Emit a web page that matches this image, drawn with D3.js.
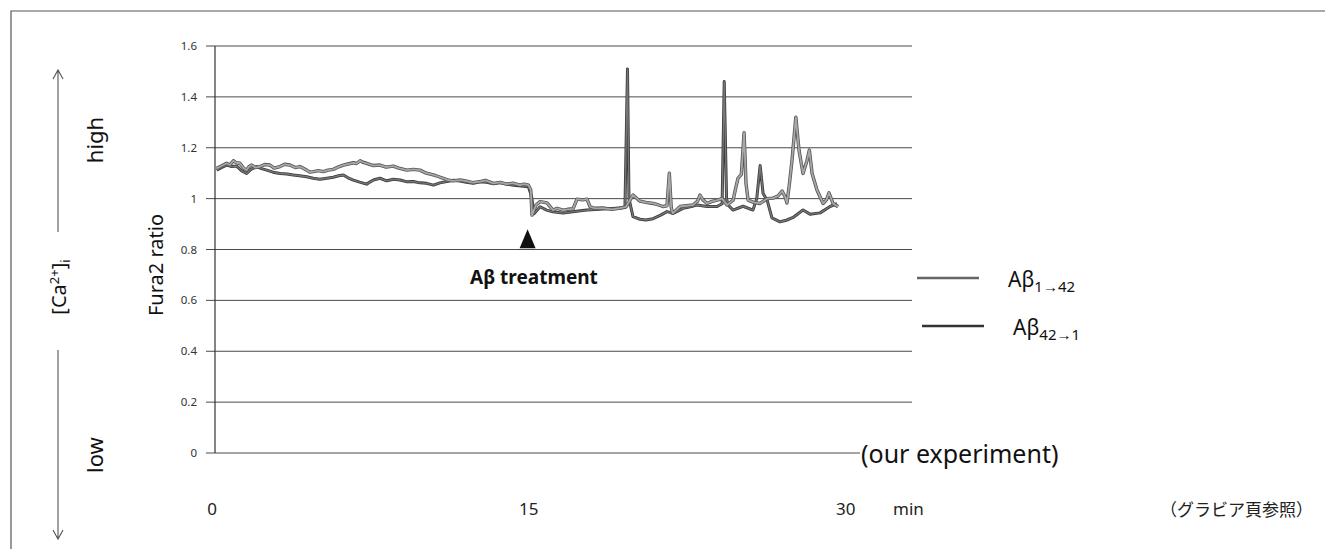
<!DOCTYPE html>
<html lang="en">
<head>
<meta charset="UTF-8">
<title>Fura2 ratio</title>
<style>
    body { margin: 0; background: #fff; }
    svg { display: block; font-family: "Noto Sans", sans-serif; }
    .grid line { stroke: #4a4a4a; stroke-width: 1; }
    .ytick { font-size: 11.5px; fill: #333; }
    .xtick { font-size: 17px; fill: #222; }
</style>
</head>
<body>
<svg id="chart" width="1325" height="549"></svg>
<script src="https://d3js.org/d3.v7.min.js"></script>
<script>
    // y grid values and x tick labels
    const yTicks = [0, 0.2, 0.4, 0.6, 0.8, 1, 1.2, 1.4, 1.6];
    const xTicks = [0, 15, 30];
    const treatmentTime = 14.8;

    // Abeta 1->42 : [min, Fura2 ratio]
    const ab1to42 = [
        [0.08,1.119],[0.3,1.128],[0.55,1.139],[0.7,1.132],[0.87,1.149],[1.0,1.141],[1.18,1.139],[1.35,1.120],
        [1.50,1.112],[1.6,1.125],[1.74,1.132],[1.9,1.122],[2.13,1.126],[2.35,1.134],[2.60,1.132],[2.8,1.120],
        [3.08,1.126],[3.3,1.135],[3.55,1.132],[3.8,1.122],[4.02,1.126],[4.2,1.118],[4.34,1.112],[4.5,1.104],
        [4.66,1.106],[4.9,1.110],[5.13,1.106],[5.35,1.112],[5.60,1.115],[5.85,1.125],[6.08,1.132],[6.3,1.136],
        [6.55,1.141],[6.7,1.138],[6.87,1.149],[7.0,1.143],[7.18,1.139],[7.5,1.130],[7.81,1.132],[8.1,1.124],
        [8.44,1.128],[8.7,1.120],[9.08,1.112],[9.4,1.115],[9.71,1.112],[10.0,1.100],[10.34,1.093],[10.6,1.086],
        [10.81,1.080],[11.0,1.074],[11.28,1.070],[11.6,1.073],[11.92,1.069],[12.2,1.063],[12.55,1.067],[12.8,1.072],
        [13.18,1.060],[13.5,1.064],[13.81,1.057],[14.1,1.061],[14.44,1.053],[14.65,1.057],[14.84,1.053],[14.95,1.034],
        [15.01,0.935],[15.2,0.975],[15.39,0.988],[15.72,0.983],[16.00,0.955],[16.2,0.962],[16.48,0.955],[16.7,0.958],
        [16.95,0.960],[17.14,0.998],[17.4,0.995],[17.61,0.998],[17.76,0.968],[18.0,0.962],[18.37,0.963],[18.8,0.958],
        [19.18,0.963],[19.46,0.968],[19.79,1.014],[20.12,0.990],[20.4,0.985],[20.74,0.981],[21.0,0.975],[21.21,0.969],
        [21.40,0.972],[21.51,1.100],[21.60,0.965],[21.67,0.942],[22.02,0.969],[22.3,0.972],[22.63,0.975],[22.85,0.990],
        [22.96,1.014],[23.1,0.995],[23.30,0.981],[23.5,0.988],[23.77,0.994],[24.01,1.000],[24.24,0.975],[24.53,0.994],
        [24.65,1.040],[24.76,1.080],[24.92,1.095],[25.05,1.259],[25.14,1.060],[25.24,0.994],[25.5,0.985],[25.81,0.981],
        [26.14,1.000],[26.42,1.002],[26.65,1.010],[26.85,1.030],[27.0,1.005],[27.08,0.983],[27.2,1.060],[27.32,1.152],
        [27.50,1.320],[27.65,1.190],[27.84,1.099],[28.03,1.150],[28.14,1.191],[28.27,1.099],[28.50,1.034],[28.79,0.981],
        [28.95,0.995],[29.07,1.023],[29.26,0.981],[29.50,0.968]
    ];

    // Abeta 42->1 : [min, Fura2 ratio]
    const ab42to1 = [
        [0.08,1.112],[0.3,1.122],[0.55,1.132],[0.8,1.126],[1.03,1.128],[1.25,1.110],[1.50,1.099],[1.7,1.115],
        [1.97,1.126],[2.2,1.118],[2.45,1.112],[2.75,1.104],[3.08,1.099],[3.4,1.097],[3.71,1.093],[4.0,1.090],
        [4.34,1.086],[4.65,1.080],[4.97,1.076],[5.3,1.080],[5.60,1.084],[5.85,1.090],[6.08,1.093],[6.3,1.082],
        [6.55,1.073],[6.85,1.065],[7.18,1.057],[7.35,1.066],[7.50,1.073],[7.81,1.080],[8.13,1.070],[8.45,1.076],
        [8.76,1.073],[9.1,1.066],[9.39,1.067],[9.7,1.062],[10.02,1.060],[10.34,1.053],[10.65,1.062],[10.97,1.067],
        [11.3,1.072],[11.60,1.069],[11.9,1.064],[12.23,1.060],[12.55,1.066],[12.86,1.064],[13.2,1.058],[13.49,1.063],
        [13.8,1.057],[14.13,1.053],[14.5,1.050],[14.84,1.047],[14.99,1.008],[15.10,0.940],[15.39,0.968],[15.7,0.955],
        [16.00,0.948],[16.48,0.943],[16.95,0.948],[17.3,0.952],[17.61,0.955],[18.0,0.957],[18.37,0.959],[18.8,0.961],
        [19.18,0.963],[19.41,0.965],[19.53,1.510],[19.60,1.000],[19.79,0.929],[20.12,0.919],[20.4,0.916],[20.74,0.921],
        [21.1,0.935],[21.40,0.949],[21.69,0.942],[22.16,0.962],[22.5,0.968],[22.82,0.975],[23.30,0.969],[23.77,0.969],
        [24.01,0.980],[24.11,1.460],[24.22,1.000],[24.29,0.975],[24.53,0.955],[25.00,0.970],[25.47,0.955],[25.65,1.000],
        [25.81,1.130],[25.95,1.020],[26.14,0.994],[26.37,0.924],[26.75,0.909],[27.05,0.915],[27.37,0.926],[27.84,0.955],
        [28.17,0.939],[28.65,0.944],[29.12,0.969],[29.45,0.980]
    ];

    const svg = d3.select("#chart");

    const x = d3.scaleLinear().domain([0, 33]).range([215, 912]);
    const y = d3.scaleLinear().domain([0, 1.6]).range([453, 46]);

    // outer frame (top and left edge of the scanned box)
    svg.append("path")
        .attr("d", "M11,549 L11,11 L1325,11")
        .attr("fill", "none")
        .attr("stroke", "#555")
        .attr("stroke-width", 1.2);

    // horizontal grid
    const grid = svg.append("g").attr("class", "grid");
    grid.selectAll("line")
        .data(yTicks)
        .enter()
        .append("line")
        .attr("x1", 206)
        .attr("x2", d => d === 0 ? 860 : 912)
        .attr("y1", d => y(d))
        .attr("y2", d => y(d));

    // y axis line
    svg.append("line")
        .attr("x1", 215).attr("x2", 215)
        .attr("y1", y(1.6)).attr("y2", y(0))
        .attr("stroke", "#333").attr("stroke-width", 1.2);

    svg.selectAll(".ytick")
        .data(yTicks)
        .enter()
        .append("text")
        .attr("class", "ytick")
        .attr("x", 197)
        .attr("y", d => y(d) + 4)
        .attr("text-anchor", "end")
        .text(d => d3.format("~g")(d));

    svg.selectAll(".xtick")
        .data(xTicks)
        .enter()
        .append("text")
        .attr("class", "xtick")
        .attr("x", d => x(d) - 3)
        .attr("y", 515)
        .attr("text-anchor", "middle")
        .text(d => d);

    svg.append("text")
        .attr("class", "xtick")
        .attr("x", 893).attr("y", 515)
        .text("min");

    // traces: dark edge underneath, grey core on top, like the scanned print
    const line = d3.line().x(d => x(d[0])).y(d => y(d[1]));

    function trace(data, edge, core, w) {
        svg.append("path").datum(data)
            .attr("d", line)
            .attr("fill", "none")
            .attr("stroke", edge)
            .attr("stroke-width", w + 1.6)
            .attr("stroke-linejoin", "round");
        svg.append("path").datum(data)
            .attr("d", line)
            .attr("fill", "none")
            .attr("stroke", core)
            .attr("stroke-width", w)
            .attr("stroke-linejoin", "round");
    }
    trace(ab42to1, "#3a3a3a", "#777", 1.4);
    trace(ab1to42, "#555", "#a8a8a8", 1.8);

    // treatment marker
    const tx = x(treatmentTime);
    svg.append("path")
        .attr("d", `M${tx},${y(0.88)} L${tx - 8},${y(0.805)} L${tx + 8},${y(0.805)} Z`)
        .attr("fill", "#111");
    svg.append("text")
        .attr("x", 470).attr("y", 284)
        .attr("font-size", 19).attr("font-weight", "bold")
        .attr("fill", "#111")
        .text("Aβ treatment");

    // legend
    const legend = [
        { y: 278, name: "1→42", edge: "#666", x0: 917 },
        { y: 326, name: "42→1", edge: "#333", x0: 922 }
    ];
    legend.forEach(l => {
        svg.append("line")
            .attr("x1", l.x0).attr("x2", l.x0 + 62)
            .attr("y1", l.y).attr("y2", l.y)
            .attr("stroke", l.edge).attr("stroke-width", 2.4);
        const t = svg.append("text")
            .attr("x", l.x0 + 91).attr("y", l.y + 9)
            .attr("font-size", 21).attr("fill", "#111");
        t.append("tspan").text("Aβ");
        t.append("tspan").attr("font-size", 15).attr("dy", 5).text(l.name);
    });

    svg.append("text")
        .attr("x", 861).attr("y", 463)
        .attr("font-size", 25).attr("fill", "#111")
        .text("(our experiment)");

    svg.append("text")
        .attr("x", 1160).attr("y", 516)
        .attr("font-family", "'Noto Sans CJK JP'")
        .attr("font-size", 17).attr("fill", "#222")
        .text("（グラビア頁参照）");

    // left side annotations
    function vtext(cx, cy, size) {
        return svg.append("text")
            .attr("transform", `translate(${cx},${cy}) rotate(-90)`)
            .attr("text-anchor", "middle")
            .attr("font-size", size)
            .attr("fill", "#111");
    }
    vtext(103, 140, 22).text("high");
    vtext(103, 455, 22).text("low");
    vtext(163, 265, 20).text("Fura2 ratio");
    const ca = vtext(66, 287, 20);
    ca.append("tspan").text("[Ca");
    ca.append("tspan").attr("font-size", 13).attr("dy", -7).text("2+");
    ca.append("tspan").attr("dy", 7).text("]");
    ca.append("tspan").attr("font-size", 13).attr("dy", 4).text("i");

    const arrows = svg.append("g")
        .attr("fill", "none").attr("stroke", "#555").attr("stroke-width", 1.1);
    arrows.append("path").attr("d", "M58,232 L58,70 M53,79 L58,70 L63,79");
    arrows.append("path").attr("d", "M58,350 L58,539 M53,530 L58,539 L63,530");
</script>
</body>
</html>
